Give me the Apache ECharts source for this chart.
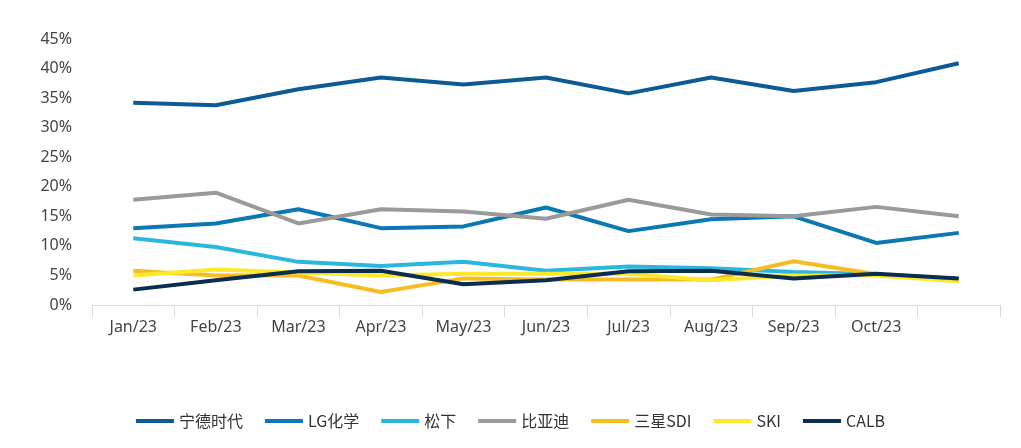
<!DOCTYPE html><html><head><meta charset="utf-8"><script src="https://cdn.jsdelivr.net/npm/echarts@6/dist/echarts.min.js"></script></head><body style="margin:0"><div id="c" style="width:1021px;height:448px"></div><script>
const categories=['Jan/23','Feb/23','Mar/23','Apr/23','May/23','Jun/23','Jul/23','Aug/23','Sep/23','Oct/23',''];
const names=['宁德时代','LG化学','松下','比亚迪','三星SDI','SKI','CALB'];
const catl=[34.2,33.8,36.5,38.5,37.3,38.5,35.8,38.5,36.2,37.7,40.9];
const lg=[13,13.8,16.2,13,13.3,16.5,12.5,14.5,15,10.5,12.2];
const pana=[11.3,9.8,7.3,6.6,7.3,5.8,6.5,6.2,5.6,5.2,4.4];
const byd=[17.8,19,13.8,16.2,15.8,14.6,17.8,15.3,15,16.6,15];
const sdi=[5.8,5,5,2.2,4.5,4.3,4.3,4.3,7.4,5.2,4.2];
const ski=[5,6,5.5,5,5.3,5.3,5.3,4.2,5,5,4];
const calb=[2.6,4.2,5.7,5.8,3.5,4.2,5.7,5.8,4.5,5.3,4.5];
const yTicks=[0,5,10,15,20,25,30,35,40,45];
const colors=['#0d5b95','#0a78b4','#2bb7dd','#9a9a9a','#f6bd23','#fde92a','#0b2d50'];
const data=[catl,lg,pana,byd,sdi,ski,calb];
const chart=echarts.init(document.getElementById('c'));
chart.setOption({
 animation:false,color:colors,
 grid:{left:92,right:21,top:39,bottom:143},
 legend:{bottom:14,itemWidth:38,itemHeight:4,itemGap:22,icon:'rect',textStyle:{fontSize:16,color:'#333',fontFamily:'Noto Sans CJK SC'},data:names},
 xAxis:{type:'category',data:categories,boundaryGap:true,axisLine:{lineStyle:{color:'#d9d9d9'}},axisTick:{show:true,length:12,lineStyle:{color:'#d9d9d9'}},axisLabel:{fontSize:16,color:'#444',margin:14,fontFamily:'Noto Sans'}},
 yAxis:{type:'value',min:0,max:45,interval:5,splitLine:{show:false},axisLine:{show:false},axisTick:{show:false},axisLabel:{fontSize:16,color:'#444',fontFamily:'Noto Sans',margin:20,formatter:v=>yTicks.includes(v)?v+'%':''}},
 series:names.map((n,i)=>({name:n,type:'line',data:data[i],symbol:'none',lineStyle:{width:4},z:i===6?10:2}))
});
</script></body></html>
